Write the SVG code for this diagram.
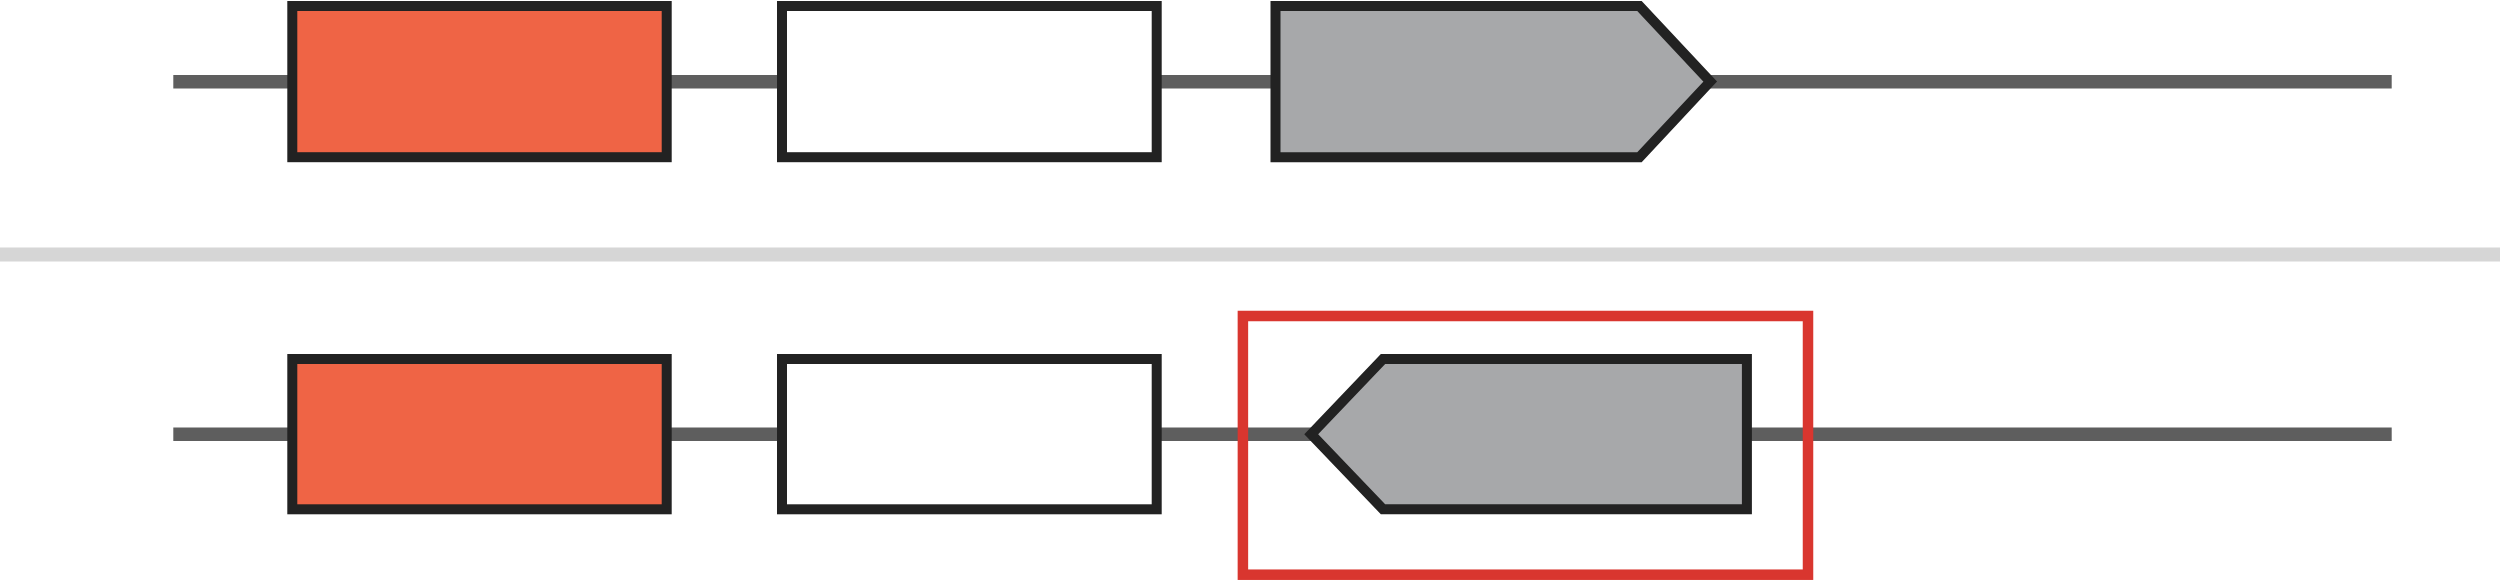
<svg xmlns="http://www.w3.org/2000/svg" width="2500" height="581" viewBox="0 0 2500 581">
  <style>
    .backbone { stroke: #5e5e5e; stroke-width: 13.6; fill: none; }
    .sep { stroke: #d6d6d6; stroke-width: 14; fill: none; }
    .gene { stroke: #222222; stroke-width: 10; stroke-linejoin: miter; stroke-miterlimit: 10; }
    .orange { fill: #ef6445; }
    .white { fill: #ffffff; }
    .gray { fill: #a7a8aa; }
    .highlight { fill: none; stroke: #d9362f; stroke-width: 10.5; }
  </style>
  <rect x="0" y="0" width="2500" height="581" fill="#ffffff"/>
  <g id="connectors">
    <line class="backbone" x1="173.3" y1="81.8" x2="2391.7" y2="81.8"/>
    <line class="backbone" x1="173.3" y1="434.2" x2="2391.7" y2="434.2"/>
  </g>
  <g id="separator">
    <line class="sep" x1="0" y1="254.5" x2="2500" y2="254.5"/>
  </g>
  <g id="row1-gene1">
    <rect class="gene orange" x="292.3" y="6" width="374.4" height="151.2"/>
  </g>
  <g id="row1-gene2">
    <rect class="gene white" x="782" y="6" width="374.7" height="151.2"/>
  </g>
  <g id="row1-gene3">
    <polygon class="gene gray" points="1275.5,6 1639.5,6 1710.2,81.6 1639.5,157.2 1275.5,157.2"/>
  </g>
  <g id="row2-gene1">
    <rect class="gene orange" x="292.3" y="359" width="374.4" height="150.3"/>
  </g>
  <g id="row2-gene2">
    <rect class="gene white" x="782" y="359" width="374.7" height="150.3"/>
  </g>
  <g id="row2-gene3">
    <polygon class="gene gray" points="1746.9,359 1383,359 1311.2,434.2 1383,509.3 1746.9,509.3"/>
  </g>
  <g id="highlight-box">
    <rect class="highlight" x="1242.9" y="316" width="565.1" height="258.7"/>
  </g>
</svg>
